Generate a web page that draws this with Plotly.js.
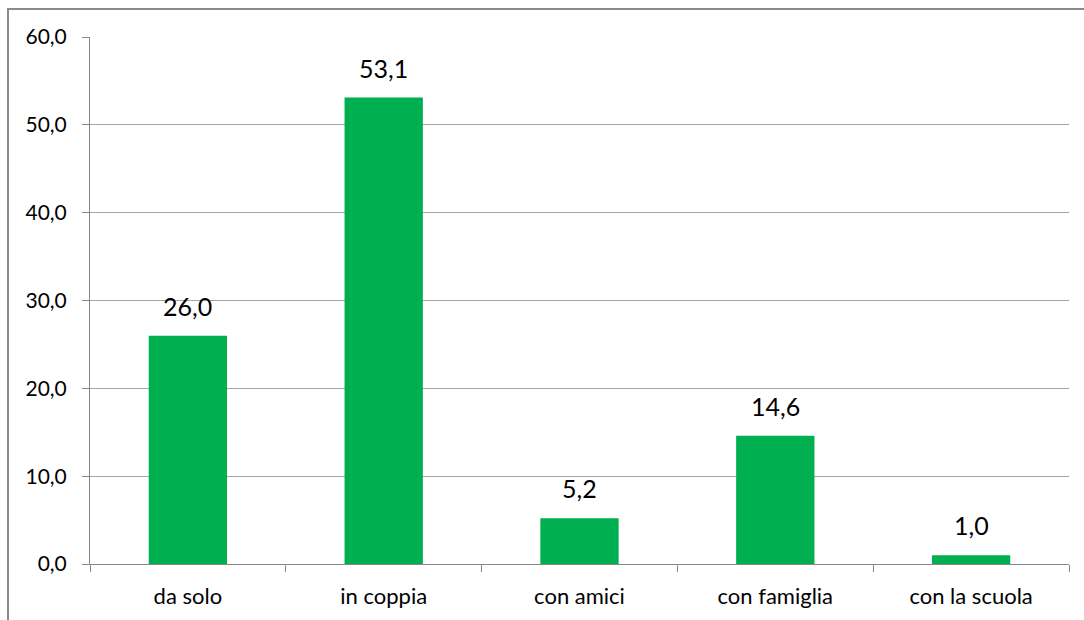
<!DOCTYPE html>
<html>
<head>
<meta charset="utf-8">
<script src="https://cdn.plot.ly/plotly-3.0.1.min.js"></script>
<style>
html,body{margin:0;padding:0;background:#fff;}
#wrap{position:relative;width:1084px;height:620px;overflow:hidden;}
#chart{position:absolute;left:0;top:0;width:1084px;height:620px;}
#frame{position:absolute;left:7px;top:8px;width:1200px;height:700px;border-left:2px solid #8a8a8a;border-top:2px solid #8a8a8a;pointer-events:none;}
</style>
</head>
<body>
<div id="wrap"><div id="chart"></div><div id="frame"></div></div>
<script>
const categories = ["da solo", "in coppia", "con amici", "con famiglia", "con la scuola"];
const values = [26.0, 53.1, 5.2, 14.6, 1.0];
const yTicks = [0, 10, 20, 30, 40, 50, 60];

const fontFam = "Lato, 'Open Sans', sans-serif";

const annotations = categories.map((c, i) => ({
  x: c, y: values[i], xref: 'x', yref: 'y',
  text: values[i].toFixed(1).replace('.', ','),
  showarrow: false, yanchor: 'bottom', yshift: 13,
  font: {family: fontFam, size: 25, color: '#000'}
}));

const trace = {
  type: 'bar', x: categories, y: values,
  marker: {color: '#00B050'},
  hoverinfo: 'none'
};

const layout = {
  width: 1084, height: 620,
  margin: {l: 90, r: 15, t: 37, b: 56},
  paper_bgcolor: 'rgba(0,0,0,0)', plot_bgcolor: '#fff',
  separators: ',.',
  bargap: 0.6,
  showlegend: false,
  font: {family: fontFam, size: 21, color: '#000'},
  xaxis: {
    type: 'category', tickson: 'boundaries', ticks: 'outside', ticklen: 7, tickcolor: '#888',
    showline: true, linecolor: '#888', linewidth: 1, showgrid: false,
    ticklabelstandoff: 13,
    tickfont: {family: fontFam, size: 22, color: '#000'}
  },
  yaxis: {
    range: [0, 60], tickvals: yTicks, tickformat: '.1f', ticks: 'outside', ticklen: 7,
    tickcolor: '#888', showline: true, linecolor: '#888', linewidth: 1,
    showgrid: true, gridcolor: '#a6a6a6', gridwidth: 1, zeroline: false,
    ticklabelstandoff: 11,
    tickfont: {family: fontFam, size: 21, color: '#000'}
  },
  annotations: annotations
};

Plotly.newPlot('chart', [trace], layout, {displayModeBar: false, staticPlot: true});
</script>
</body>
</html>
